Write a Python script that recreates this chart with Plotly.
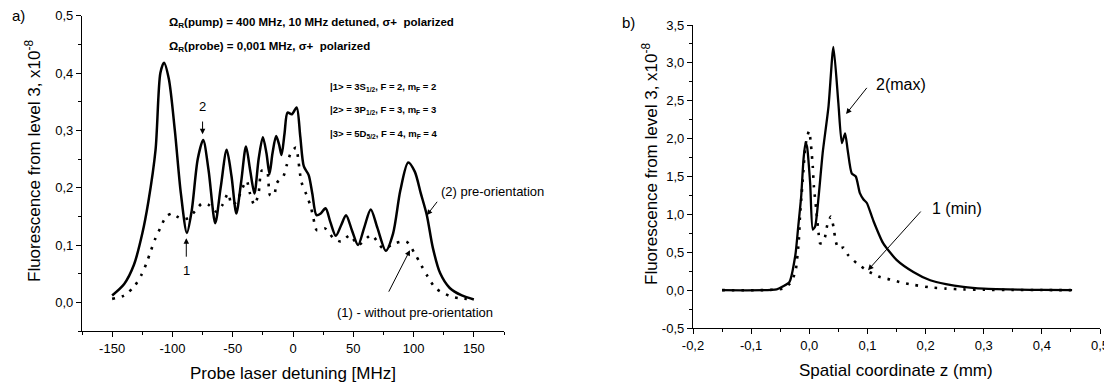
import plotly.graph_objects as go

# ---------- panel a) : probe laser detuning ----------
detuning_solid = [-150, -140, -132, -125, -120, -114, -110, -107, -103, -98, -93, -88, -84, -79, -74.5,
                  -70, -64.5, -60, -55, -51, -47, -43, -39, -35.5, -32, -28.5, -25, -22, -19.5, -17,
                  -14, -11.5, -9.5, -7, -4.5, -1, 3, 6, 9, 13, 16, 19.5, 23, 27, 31, 35.5, 40, 44,
                  49, 54, 59, 64.5, 70, 77, 83, 89, 95.5, 101, 106, 111, 116, 122, 130, 140, 150]
fluor_preorient = [0.012, 0.032, 0.065, 0.12, 0.175, 0.266, 0.40, 0.418, 0.39, 0.30, 0.19, 0.121, 0.16,
                   0.25, 0.283, 0.23, 0.138, 0.20, 0.266, 0.22, 0.155, 0.21, 0.272, 0.23, 0.19, 0.25,
                   0.288, 0.26, 0.224, 0.26, 0.29, 0.275, 0.257, 0.295, 0.331, 0.328, 0.34, 0.29,
                   0.237, 0.222, 0.19, 0.152, 0.155, 0.164, 0.14, 0.116, 0.135, 0.152, 0.125, 0.10,
                   0.13, 0.162, 0.13, 0.09, 0.12, 0.195, 0.244, 0.228, 0.19, 0.152, 0.095, 0.051,
                   0.025, 0.012, 0.005]

detuning_dotted = [-150, -140, -131.6, -125.7, -121.6, -117.9, -114.4, -110, -105, -100, -96.4, -91,
                   -86.7, -81, -75.6, -70, -63.4, -58.5, -53.8, -50.8, -46.7, -42.6, -38.5, -35.7, -32,
                   -28.6, -25.8, -21.6, -19, -15.7, -13.5, -8, -5.1, -1.9, 2.5, 4.4, 7, 11.3, 14.7,
                   16.9, 19.7, 26.5, 33.5, 40, 47.3, 54, 65, 74.9, 84.4, 94, 100.7, 106.3, 111.7,
                   118.7, 130, 138.5, 149.5]
fluor_without = [0.006, 0.012, 0.028, 0.048, 0.068, 0.09, 0.11, 0.13, 0.15, 0.155, 0.15, 0.145, 0.147,
                 0.16, 0.172, 0.17, 0.158, 0.17, 0.19, 0.17, 0.176, 0.196, 0.212, 0.19, 0.17, 0.19,
                 0.23, 0.228, 0.187, 0.187, 0.208, 0.22, 0.24, 0.26, 0.27, 0.248, 0.21, 0.187, 0.167,
                 0.147, 0.126, 0.129, 0.112, 0.106, 0.117, 0.10, 0.117, 0.094, 0.103, 0.106, 0.086,
                 0.065, 0.045, 0.024, 0.011, 0.007, 0.005]

# ---------- panel b) : spatial coordinate ----------
z_max = [-0.15, -0.056, -0.045, -0.034, -0.024, -0.019, -0.014, -0.01, -0.0065, -0.004, 0.0015, 0.006,
         0.01, 0.016, 0.023, 0.033, 0.0415, 0.05, 0.056, 0.0616, 0.066, 0.073, 0.08, 0.087, 0.093,
         0.099, 0.11, 0.127, 0.15, 0.179, 0.208, 0.235, 0.265, 0.3, 0.322, 0.36, 0.4, 0.452]
fluor_max = [0.0, 0.01, 0.05, 0.11, 0.46, 0.84, 1.23, 1.72, 1.94, 1.9, 1.41, 0.80, 0.84, 1.23, 1.81,
             2.42, 3.21, 2.47, 1.94, 2.07, 1.85, 1.54, 1.5, 1.28, 1.2, 1.15, 0.92, 0.62, 0.40, 0.24,
             0.13, 0.08, 0.044, 0.02, 0.013, 0.006, 0.003, 0.0]

z_min = [-0.15, -0.045, -0.033, -0.024, -0.018, -0.016, -0.013, -0.01, -0.0075, -0.0045, -0.0003,
         0.0026, 0.006, 0.008, 0.012, 0.016, 0.0186, 0.022, 0.027, 0.031, 0.037, 0.042, 0.045, 0.05,
         0.059, 0.067, 0.081, 0.099, 0.119, 0.139, 0.159, 0.179, 0.208, 0.235, 0.265, 0.3, 0.35, 0.4,
         0.45]
fluor_min = [0.0, 0.02, 0.09, 0.24, 0.66, 0.97, 1.28, 1.59, 1.85, 2.0, 2.1, 1.94, 1.63, 1.36, 1.06,
             0.75, 0.62, 0.62, 0.70, 0.86, 0.97, 0.82, 0.66, 0.55, 0.56, 0.46, 0.36, 0.26, 0.18, 0.14,
             0.10, 0.07, 0.036, 0.02, 0.01, 0.005, 0.002, 0.001, 0.0]

# ---------- tick labels ----------
xa_ticks = [-150, -100, -50, 0, 50, 100, 150]
xa_labels = ["-150", "-100", "-50", "0", "50", "100", "150"]
ya_ticks = [0.0, 0.1, 0.2, 0.3, 0.4, 0.5]
ya_labels = ["0,0", "0,1", "0,2", "0,3", "0,4", "0,5"]
xb_ticks = [-0.2, -0.1, 0.0, 0.1, 0.2, 0.3, 0.4, 0.5]
xb_labels = ["-0,2", "-0,1", "0,0", "0,1", "0,2", "0,3", "0,4", "0,5"]
yb_ticks = [-0.5, 0.0, 0.5, 1.0, 1.5, 2.0, 2.5, 3.0, 3.5]
yb_labels = ["-0,5", "0,0", "0,5", "1,0", "1,5", "2,0", "2,5", "3,0", "3,5"]

# ---------- text ----------
ytitle = "Fluorescence from level 3, x10<sup>-8</sup>"
xtitle_a = "Probe laser detuning [MHz]"
xtitle_b = "Spatial coordinate z (mm)"
info_lines = ["<b>Ω<sub>R</sub>(pump) = 400 MHz, 10 MHz detuned, σ+  polarized</b>",
              "<b>Ω<sub>R</sub>(probe) = 0,001 MHz, σ+  polarized</b>"]
state_lines = ["<b>|1> = 3S<sub>1/2</sub>, F = 2, m<sub>F</sub> = 2</b>",
               "<b>|2> = 3P<sub>1/2</sub>, F = 3, m<sub>F</sub> = 3</b>",
               "<b>|3> = 5D<sub>5/2</sub>, F = 4, m<sub>F</sub> = 4</b>"]

FONT = "Liberation Sans, Arial, sans-serif"
OFF = 8                      # default page body margin
W, H = 1112 - OFF, 385 - OFF

def px(x):
    return (x - OFF) / W

def py(y):
    return 1 - (y - OFF) / H

fig = go.Figure()
fig.add_trace(go.Scatter(x=detuning_solid, y=fluor_preorient, mode="lines", line=dict(color="black", width=2.5, shape="spline", smoothing=0.8), xaxis="x", yaxis="y"))
fig.add_trace(go.Scatter(x=detuning_dotted, y=fluor_without, mode="lines", line=dict(color="black", width=2.6, shape="spline", smoothing=0.8, dash="2.6px,7px"), xaxis="x", yaxis="y"))
fig.add_trace(go.Scatter(x=z_max, y=fluor_max, mode="lines", line=dict(color="black", width=2.3, shape="spline", smoothing=0.6), xaxis="x2", yaxis="y2"))
fig.add_trace(go.Scatter(x=z_min, y=fluor_min, mode="lines", line=dict(color="black", width=2.6, shape="spline", smoothing=0.6, dash="2.6px,7px"), xaxis="x2", yaxis="y2"))

axis_common = dict(showgrid=False, zeroline=False, showline=True, linecolor="black", linewidth=1.3,
                   ticks="outside", ticklen=5, tickwidth=1.2, tickcolor="black",
                   tickfont=dict(family=FONT, size=13, color="black"), automargin=False,
                   tickmode="array", ticklabeloverflow="allow")

fig.update_layout(
    width=W, height=H, margin=dict(l=0, r=0, t=0, b=0),
    paper_bgcolor="white", plot_bgcolor="white", showlegend=False,
    xaxis=dict(**axis_common, domain=[px(82), px(504)], range=[-175, 175], tickvals=xa_ticks, ticktext=xa_labels,
               anchor="y", minor=dict(ticks="outside", ticklen=3, dtick=25, tick0=-175, tickcolor="black")),
    yaxis=dict(**axis_common, domain=[py(331), py(15.7)], range=[-0.05, 0.5], tickvals=ya_ticks, ticktext=ya_labels,
               anchor="x", minor=dict(ticks="outside", ticklen=3, dtick=0.05, tick0=0, tickcolor="black")),
    xaxis2=dict(**axis_common, domain=[px(693), px(1100)], range=[-0.2, 0.5], tickvals=xb_ticks, ticktext=xb_labels,
                anchor="y2", minor=dict(ticks="outside", ticklen=3, dtick=0.05, tick0=0, tickcolor="black")),
    yaxis2=dict(**axis_common, domain=[py(328), py(25)], range=[-0.5, 3.5], tickvals=yb_ticks, ticktext=yb_labels,
                anchor="x2", minor=dict(ticks="outside", ticklen=3, dtick=0.25, tick0=0, tickcolor="black")),
)

ann = []
def text(x, y, t, size=13, xanchor="center", angle=0):
    ann.append(dict(x=px(x), y=py(y), xref="paper", yref="paper", text=t, showarrow=False,
                    xanchor=xanchor, yanchor="middle", textangle=angle,
                    font=dict(family=FONT, size=size, color="black")))

def arrow(xr, yr, tx, ty, hx, hy):
    ann.append(dict(x=hx, y=hy, ax=tx, ay=ty, xref=xr, yref=yr, axref=xr, ayref=yr, text="",
                    showarrow=True, arrowhead=2, arrowsize=1.1, arrowwidth=1, arrowcolor="black"))

# axis titles
text(33, 161, ytitle, size=17, angle=-90)
text(650, 164, ytitle, size=17, angle=-90)
text(293, 373, xtitle_a, size=17)
text(896, 370, xtitle_b, size=17)
# panel labels
text(10, 15, "a)", size=15, xanchor="left")
text(620, 23, "b)", size=15, xanchor="left")
# info text
text(167, 23, info_lines[0], size=11.5, xanchor="left")
text(167, 47, info_lines[1], size=11.5, xanchor="left")
for i, s in enumerate(state_lines):
    text(328, 87 + 23.3 * i, s, size=9.5, xanchor="left")
# curve labels
text(202, 106, "2", size=13)
text(186, 270, "1", size=13)
text(439, 191, "(2) pre-orientation", size=13, xanchor="left")
text(415, 312, "(1) - without pre-orientation", size=13)
text(874, 84, "2(max)", size=16, xanchor="left")
text(930, 208, "1 (min)", size=16, xanchor="left")

arrow("x", "y", -75, 0.318, -75, 0.293)
arrow("x", "y", -88.5, 0.077, -88.5, 0.112)
arrow("x", "y", 120.5, 0.178, 111, 0.152)
arrow("x", "y", 78.8, 0.016, 97, 0.091)
arrow("x2", "y2", 0.101, 2.69, 0.0633, 2.325)
arrow("x2", "y2", 0.194, 1.057, 0.101, 0.264)

fig.update_layout(annotations=ann)
fig.write_html("out.html")
